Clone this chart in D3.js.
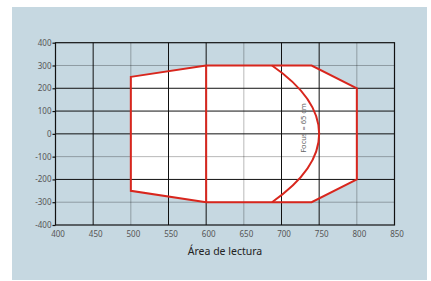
<!DOCTYPE html>
<html>
<head>
<meta charset="utf-8">
<script src="https://cdn.jsdelivr.net/npm/d3@7"></script>
<style>
  body { margin: 0; background: #fff; }
  svg { display: block; }
</style>
</head>
<body>
<svg width="431" height="281"></svg>
<script>
// Axis ticks
let xTicks = [400, 450, 500, 550, 600, 650, 700, 750, 800, 850];
let yTicks = [-400, -300, -200, -100, 0, 100, 200, 300, 400];

// Grid lines drawn in grey instead of black
let xGrey = [500, 650, 800];
let yGrey = [300, -100, -300];

// Reading area outline (x, y)
let areaX = [500, 600, 740, 800, 800, 740, 600, 500];
let areaY = [250, 300, 300, 200, -200, -300, -300, -250];

// Inner divider at x = 600
let dividerX = 600;
let dividerY = [300, -300];

// Focus arc: circle round the origin
let focusRadius = 750;
let focusY = [300, -300];
let focusLabel = 'Focus = 65 cm';

let svg = d3.select('svg');
let width = +svg.attr('width');
let height = +svg.attr('height');

let x = d3.scaleLinear().domain([400, 850]).range([55.5, 394.5]);
let y = d3.scaleLinear().domain([-400, 400]).range([225, 42.7]);

// Panel background
svg.append('rect')
    .attr('x', 12).attr('y', 7)
    .attr('width', 415).attr('height', 273)
    .attr('fill', '#c6d8e1');

// White fill of the reading area
let pts = areaX.map((d, i) => [x(d), y(areaY[i])]);
svg.append('polygon')
    .attr('points', pts.map(p => p.join(',')).join(' '))
    .attr('fill', '#fff');

// Grid
svg.append('g').selectAll('line')
    .data(xTicks.slice(1, -1))
    .enter().append('line')
    .attr('x1', d => x(d)).attr('x2', d => x(d))
    .attr('y1', y(-400)).attr('y2', y(400))
    .attr('stroke', d => xGrey.includes(d) ? 'rgba(0,0,0,0.28)' : '#111')
    .attr('stroke-width', 1);

svg.append('g').selectAll('line')
    .data(yTicks.slice(1, -1))
    .enter().append('line')
    .attr('x1', x(400)).attr('x2', x(850))
    .attr('y1', d => y(d)).attr('y2', d => y(d))
    .attr('stroke', d => yGrey.includes(d) ? 'rgba(0,0,0,0.28)' : '#111')
    .attr('stroke-width', 1);

// Red outline, divider and focus arc
let red = '#d8261d';
svg.append('polygon')
    .attr('points', pts.map(p => p.join(',')).join(' '))
    .attr('fill', 'none')
    .attr('stroke', red)
    .attr('stroke-width', 2);

svg.append('line')
    .attr('x1', x(dividerX)).attr('x2', x(dividerX))
    .attr('y1', y(dividerY[0])).attr('y2', y(dividerY[1]))
    .attr('stroke', red)
    .attr('stroke-width', 2);

let ax = Math.sqrt(focusRadius * focusRadius - focusY[0] * focusY[0]);
let rx = x(focusRadius) - x(0);
let ry = y(0) - y(focusRadius);
svg.append('path')
    .attr('d', 'M' + x(ax) + ',' + y(focusY[0]) +
               ' A' + rx + ',' + ry + ' 0 0 1 ' + x(ax) + ',' + y(focusY[1]))
    .attr('fill', 'none')
    .attr('stroke', red)
    .attr('stroke-width', 2);

svg.append('text')
    .attr('transform', 'translate(' + 305.5 + ',' + 128 + ')rotate(-90)')
    .attr('text-anchor', 'middle')
    .attr('font-family', 'Noto Sans')
    .attr('font-size', '7.5px')
    .attr('fill', '#666')
    .text(focusLabel);

// Frame
svg.append('rect')
    .attr('x', x(400)).attr('y', y(400))
    .attr('width', x(850) - x(400)).attr('height', y(-400) - y(400))
    .attr('fill', 'none')
    .attr('stroke', '#111')
    .attr('stroke-width', 1.2);

// Y axis
let yAxis = svg.append('g')
    .attr('transform', 'translate(' + x(400) + ',0)')
    .call(d3.axisLeft(y).tickValues(yTicks).tickSize(3).tickPadding(1).tickSizeOuter(0));
yAxis.select('.domain').remove();
yAxis.selectAll('line').attr('stroke', '#111').attr('stroke-width', 1.2);
yAxis.selectAll('text')
    .attr('font-family', 'Noto Sans')
    .attr('font-size', '8px')
    .attr('fill', '#555')
    .text(d => d < 0 ? '-' + Math.abs(d) : d);

// X axis
let xAxis = svg.append('g')
    .attr('transform', 'translate(0,' + y(-400) + ')')
    .call(d3.axisBottom(x).tickValues(xTicks).tickSize(0).tickPadding(6));
xAxis.select('.domain').remove();
xAxis.selectAll('text')
    .attr('dx', 2)
    .attr('font-family', 'Noto Sans')
    .attr('font-size', '8px')
    .attr('fill', '#555');

// Axis title
svg.append('text')
    .attr('text-anchor', 'middle')
    .attr('transform', 'translate(' + 225 + ',' + 254.5 + ')')
    .attr('font-family', 'Noto Sans')
    .attr('font-size', '10.5px')
    .attr('fill', '#222')
    .text('Área de lectura');
</script>
</body>
</html>
